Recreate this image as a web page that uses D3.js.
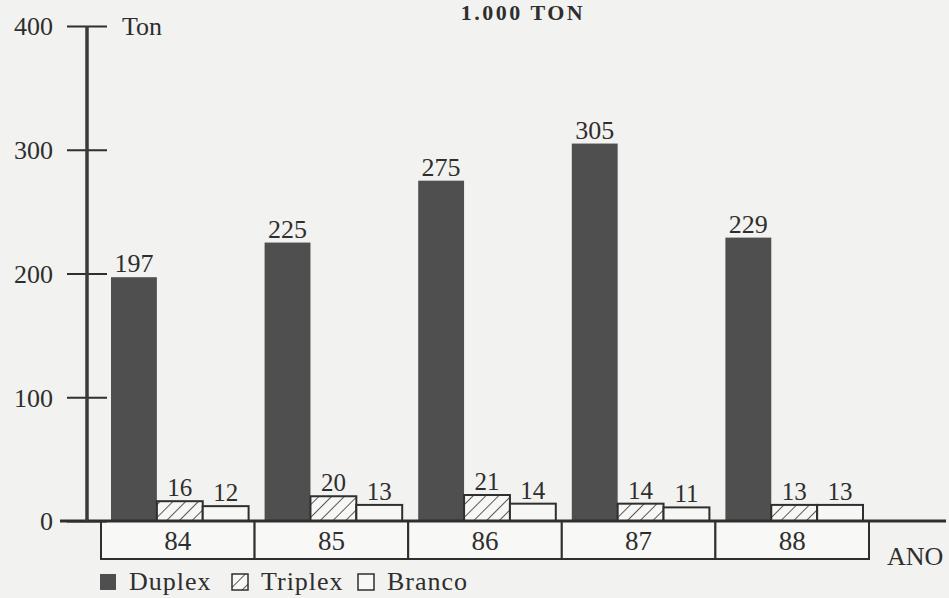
<!DOCTYPE html>
<html>
<head>
<meta charset="utf-8">
<script src="https://cdn.jsdelivr.net/npm/d3@7"></script>
<style>
  html, body { margin: 0; padding: 0; background: #f2f2f0; }
  svg { display: block; }
  text { font-family: "Liberation Serif", "DejaVu Serif", serif; fill: #2e2e2e; }
</style>
</head>
<body>
<svg id="chart" width="949" height="598"></svg>
<script>
// Production by year, thousand tonnes
const years = ["84", "85", "86", "87", "88"];
const seriesNames = ["Duplex", "Triplex", "Branco"];
const duplex = [197, 225, 275, 305, 229];
const triplex = [16, 20, 21, 14, 13];
const branco = [12, 13, 14, 11, 13];
const yTicks = [0, 100, 200, 300, 400];

const rows = years.map((yr, i) => ({
  year: yr,
  values: [
    { key: "Duplex", value: duplex[i] },
    { key: "Triplex", value: triplex[i] },
    { key: "Branco", value: branco[i] }
  ]
}));

const ink = "#2f2f2f";
const svg = d3.select("#chart");

const defs = svg.append("defs");
const hatch = defs.append("pattern")
  .attr("id", "hatch")
  .attr("patternUnits", "userSpaceOnUse")
  .attr("width", 9).attr("height", 9)
  .attr("patternTransform", "rotate(45)");
hatch.append("rect").attr("width", 9).attr("height", 9).attr("fill", "#f7f7f5");
hatch.append("line")
  .attr("x1", 0).attr("y1", 0).attr("x2", 0).attr("y2", 9)
  .attr("stroke", ink).attr("stroke-width", 1.6);

const fills = { Duplex: "#4f4f4f", Triplex: "url(#hatch)", Branco: "#f7f7f5" };

// Scales
const y = d3.scaleLinear().domain([0, 400]).range([521, 26]);
const x = d3.scaleBand().domain(years).range([101, 869]).padding(0);
const xs = d3.scaleBand().domain(seriesNames)
  .range([10, x.bandwidth() - 6]).padding(0);

// Title
svg.append("text")
  .attr("x", 523).attr("y", 20)
  .attr("text-anchor", "middle")
  .attr("font-size", 22).attr("font-weight", "bold")
  .attr("letter-spacing", 2.5)
  .text("1.000 TON");

// Year boxes under the baseline
const boxes = svg.append("g");
boxes.selectAll("rect").data(years).join("rect")
  .attr("x", d => x(d)).attr("y", 521)
  .attr("width", x.bandwidth()).attr("height", 38)
  .attr("fill", "#f8f8f6").attr("stroke", ink).attr("stroke-width", 2);
boxes.selectAll("text").data(years).join("text")
  .attr("x", d => x(d) + x.bandwidth() / 2).attr("y", 550)
  .attr("text-anchor", "middle").attr("font-size", 27)
  .text(d => d);

// Bars
const groups = svg.append("g").selectAll("g").data(rows).join("g")
  .attr("transform", d => `translate(${x(d.year)},0)`);

groups.selectAll("rect").data(d => d.values).join("rect")
  .attr("x", d => xs(d.key))
  .attr("y", d => y(d.value))
  .attr("width", xs.bandwidth())
  .attr("height", d => y(0) - y(d.value))
  .attr("fill", d => fills[d.key])
  .attr("stroke", d => d.key === "Duplex" ? "none" : ink)
  .attr("stroke-width", 2);

groups.selectAll("text").data(d => d.values).join("text")
  .attr("x", d => xs(d.key) + xs.bandwidth() / 2)
  .attr("y", d => y(d.value) - 5)
  .attr("text-anchor", "middle")
  .attr("font-size", d => d.key === "Duplex" ? 26 : 25)
  .text(d => d.value);

// Baseline
svg.append("line")
  .attr("x1", 60).attr("x2", 946)
  .attr("y1", y(0)).attr("y2", y(0))
  .attr("stroke", ink).attr("stroke-width", 3);

// Vertical axis
const axis = d3.axisLeft(y).tickValues(yTicks).tickSize(0).tickPadding(0);
const gAxis = svg.append("g").attr("transform", "translate(87,0)").call(axis);
gAxis.select(".domain").remove();
gAxis.selectAll(".tick text")
  .attr("x", -34).attr("dy", "0.34em")
  .attr("font-size", 26)
  .style("font-family", "Liberation Serif, serif")
  .attr("fill", "#2e2e2e");
gAxis.selectAll(".tick").append("line")
  .attr("x1", -20).attr("x2", 20)
  .attr("stroke", ink).attr("stroke-width", 2);
svg.append("line")
  .attr("x1", 87).attr("x2", 87)
  .attr("y1", y(400)).attr("y2", y(0))
  .attr("stroke", "#3a3a3a").attr("stroke-width", 3.5);

svg.append("text")
  .attr("x", 122).attr("y", 35)
  .attr("font-size", 26)
  .text("Ton");

svg.append("text")
  .attr("x", 887).attr("y", 565)
  .attr("font-size", 26)
  .text("ANO");

// Legend
const legendX = [100, 232, 358];
const legend = svg.append("g").selectAll("g").data(seriesNames).join("g")
  .attr("transform", (d, i) => `translate(${legendX[i]},574)`);
legend.append("rect")
  .attr("width", 16).attr("height", 16)
  .attr("fill", d => fills[d])
  .attr("stroke", d => d === "Duplex" ? "none" : ink)
  .attr("stroke-width", 1.5);
legend.append("text")
  .attr("x", 29).attr("y", 16)
  .attr("font-size", 26).attr("letter-spacing", 1)
  .text(d => d);
</script>
</body>
</html>
